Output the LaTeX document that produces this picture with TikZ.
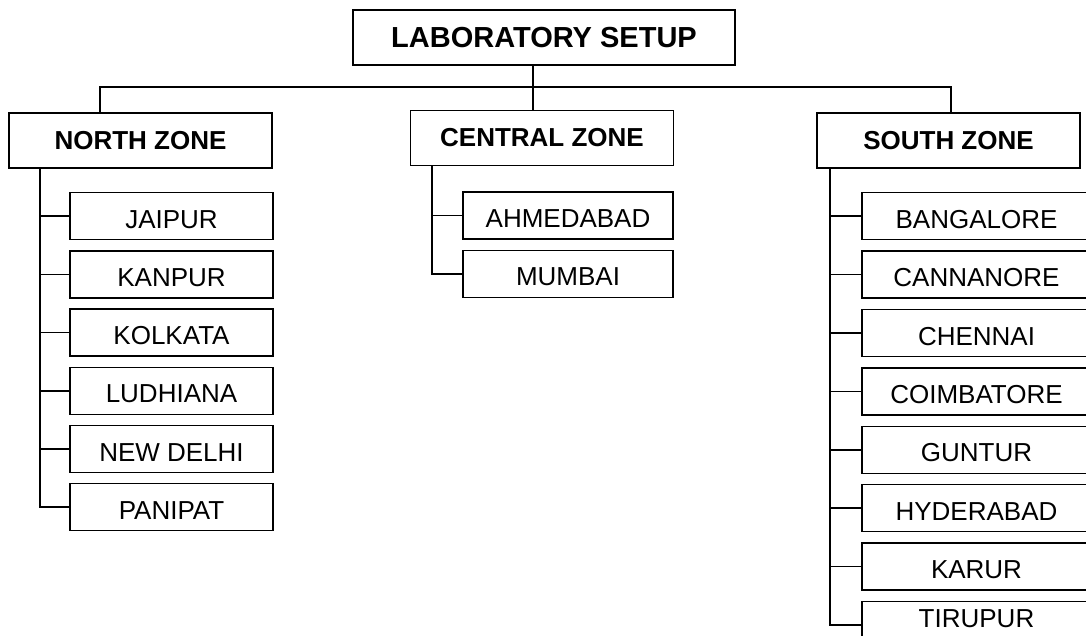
\documentclass[tikz,border=0pt]{standalone}
\usepackage{fontspec}
\setmainfont{Liberation Sans}
\usetikzlibrary{positioning}

\begin{document}
\begin{tikzpicture}[
  x=1pt,y=-1pt,
  head/.style={draw,line width=1.5pt,minimum width=382pt,minimum height=55pt,inner sep=0pt,font=\fontsize{29}{34}\selectfont\bfseries},
  zone/.style={draw,line width=1.5pt,minimum width=263pt,minimum height=55pt,inner sep=0pt,font=\fontsize{26}{30}\selectfont\bfseries},
  city/.style={draw,line width=1.5pt,minimum height=47pt,inner sep=0pt,text height=24pt,text depth=0pt,font=\fontsize{26}{30}\selectfont},
  link/.style={line width=1.5pt}
]
\useasboundingbox (0,0) rectangle (1086,635);
\clip (0,0) rectangle (1086,635);
% top and zones
\node[head] (lab) at (544,37.5) {LABORATORY SETUP};
\node[zone] (north) at (140.5,140.5) {NORTH ZONE};
\node[zone] (central) at (542,138) {CENTRAL ZONE};
\node[zone] (south) at (948.5,140.7) {SOUTH ZONE};
% north zone labs
\node[city,minimum width=203pt] (jaipur) at (171.5,216.2) {JAIPUR};
\node[city,minimum width=203pt,below=9.7pt of jaipur] (kanpur) {KANPUR};
\node[city,minimum width=203pt,below=9.7pt of kanpur] (kolkata) {KOLKATA};
\node[city,minimum width=203pt,below=9.7pt of kolkata] (ludhiana) {LUDHIANA};
\node[city,minimum width=203pt,below=9.7pt of ludhiana] (delhi) {NEW DELHI};
\node[city,minimum width=203pt,below=9.7pt of delhi] (panipat) {PANIPAT};
% central zone labs
\node[city,minimum width=210pt] (ahmedabad) at (568,215.7) {AHMEDABAD};
\node[city,minimum width=210pt,below=9.7pt of ahmedabad] (mumbai) {MUMBAI};
% south zone labs
\node[city,minimum width=229pt] (bangalore) at (976.5,216.2) {BANGALORE};
\node[city,minimum width=229pt,below=9.9pt of bangalore] (cannanore) {CANNANORE};
\node[city,minimum width=229pt,below=9.9pt of cannanore] (chennai) {CHENNAI};
\node[city,minimum width=229pt,below=9.9pt of chennai] (coimbatore) {COIMBATORE};
\node[city,minimum width=229pt,below=9.9pt of coimbatore] (guntur) {GUNTUR};
\node[city,minimum width=229pt,below=9.9pt of guntur] (hyderabad) {HYDERABAD};
\node[city,minimum width=229pt,below=9.9pt of hyderabad] (karur) {KARUR};
\node[city,minimum width=229pt,text height=19pt,text depth=15pt,below=9.9pt of karur] (tirupur) {TIRUPUR};
% bus under the top box
\coordinate (hub) at (533,87);
\coordinate (nbus) at (100,87);
\coordinate (sbus) at (951,87);
\draw[link] (hub |- lab.south) -- (hub |- central.north);
\draw[link] (nbus |- north.north) -- (nbus) -- (sbus) -- (sbus |- south.north);
% spines
\coordinate (nspine) at (40,0);
\coordinate (cspine) at (432,0);
\coordinate (sspine) at (830,0);
\draw[link] (nspine |- north.south) |- (panipat.west);
\draw[link] (nspine |- jaipur.west) -- (jaipur.west);
\draw[link] (nspine |- kanpur.west) -- (kanpur.west);
\draw[link] (nspine |- kolkata.west) -- (kolkata.west);
\draw[link] (nspine |- ludhiana.west) -- (ludhiana.west);
\draw[link] (nspine |- delhi.west) -- (delhi.west);
\draw[link] (cspine |- central.south) |- (mumbai.west);
\draw[link] (cspine |- ahmedabad.west) -- (ahmedabad.west);
\draw[link] (sspine |- south.south) |- (tirupur.west);
\draw[link] (sspine |- bangalore.west) -- (bangalore.west);
\draw[link] (sspine |- cannanore.west) -- (cannanore.west);
\draw[link] (sspine |- chennai.west) -- (chennai.west);
\draw[link] (sspine |- coimbatore.west) -- (coimbatore.west);
\draw[link] (sspine |- guntur.west) -- (guntur.west);
\draw[link] (sspine |- hyderabad.west) -- (hyderabad.west);
\draw[link] (sspine |- karur.west) -- (karur.west);
\end{tikzpicture}
\end{document}
